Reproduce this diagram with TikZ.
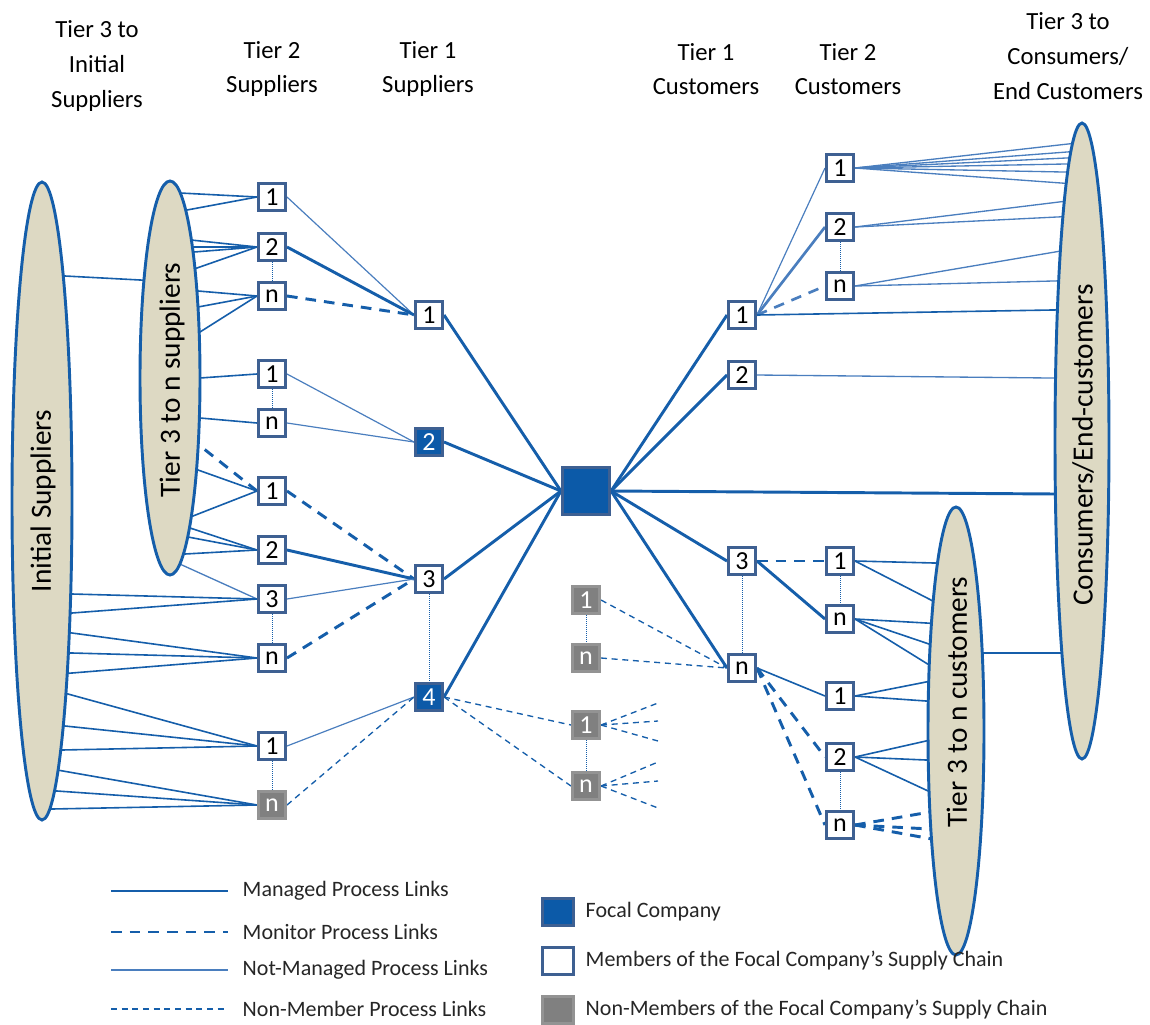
\documentclass[tikz,border=0pt]{standalone}
\usepackage{fontspec}
\setmainfont{Carlito}
\usetikzlibrary{shapes.geometric}
\pgfdeclarelayer{bg}
\pgfsetlayers{bg,main}
\definecolor{lnblue}{RGB}{21,94,170}
\definecolor{thinblue}{RGB}{74,126,190}
\definecolor{boxborder}{RGB}{62,96,146}
\definecolor{focalblue}{RGB}{12,90,168}
\definecolor{nmgray}{RGB}{128,128,128}
\definecolor{ellfill}{RGB}{221,217,195}
\tikzset{
  managed/.style={draw=lnblue, line width=2.2pt},
  managedlt/.style={draw=thinblue, line width=2pt},
  monitor/.style={draw=lnblue, line width=2.2pt, dash pattern=on 8pt off 6pt},
  monitorlt/.style={draw=thinblue, line width=2pt, dash pattern=on 8pt off 6pt},
  notman/.style={draw=thinblue, line width=0.9pt},
  feed/.style={draw=lnblue, line width=1.2pt, shorten >=-5pt},
  feedthin/.style={draw=thinblue, line width=1pt, shorten >=-5pt},
  nonmem/.style={draw=lnblue, line width=1pt, dash pattern=on 4.5pt off 3.5pt},
  dotlink/.style={draw=lnblue, line width=0.7pt, dash pattern=on 0.7pt off 0.8pt},
  mbox/.style={draw=boxborder, fill=white, line width=2.1pt, minimum size=20.4pt, inner sep=0pt, font=\fontsize{19.5}{19.5}\selectfont},
  fbox/.style={mbox, fill=focalblue, text=white},
  gbox/.style={mbox, draw=nmgray!85, fill=nmgray, text=white},
  ell/.style={ellipse, draw=lnblue, line width=2.2pt, fill=ellfill, inner sep=0pt},
  etext/.style={rotate=90, font=\fontsize{22}{22}\selectfont},
  head/.style={align=center, font=\fontsize{18.5}{26}\selectfont},
  legtext/.style={anchor=west, font=\fontsize{16.5}{16.5}\selectfont, text=black!85},
}
\begin{document}
\begin{tikzpicture}[x=0.75pt, y=-0.75pt]
\path[use as bounding box] (0,0) rectangle (1150,1025);

% headers
\node[head] (h1) at (97,66) {Tier 3 to\\Initial\\Suppliers};
\node[head] (h2) at (272,69) {Tier 2\\Suppliers};
\node[head] (h3) at (428,69) {Tier 1\\Suppliers};
\node[head] (h4) at (706,69) {Tier 1\\Customers};
\node[head] (h5) at (848,69) {Tier 2\\Customers};
\node[head] (h6) at (1068,56) {Tier 3 to\\Consumers/\\End Customers};

% ellipses
\node[ell, minimum width=45pt, minimum height=478.5pt] (IS) at (42,501) {};
\node[ell, minimum width=45pt, minimum height=295.5pt] (T3S) at (170,378) {};
\node[ell, minimum width=40.5pt, minimum height=477pt] (CE) at (1082,441) {};
\node[ell, minimum width=42pt, minimum height=336pt] (T3C) at (956,731) {};
\node[etext] (ISt) at (43,501) {Initial Suppliers};
\node[etext] (T3St) at (172,380) {Tier 3 to n suppliers};
\node[etext] (CEt) at (1083,445) {Consumers/End-customers};
\node[etext] (T3Ct) at (957,702) {Tier 3 to n customers};

% tier 2 suppliers
\node[mbox] (S2a1) at (272,197) {1};
\node[mbox] (S2a2) at (272,247) {2};
\node[mbox] (S2an) at (272,296) {n};
\node[mbox] (S2b1) at (272,374) {1};
\node[mbox] (S2bn) at (272,423) {n};
\node[mbox] (S2c1) at (272,491) {1};
\node[mbox] (S2c2) at (272,550) {2};
\node[mbox] (S2c3) at (272,599) {3};
\node[mbox] (S2cn) at (272,658) {n};
\node[mbox] (S2d1) at (272,746) {1};
\node[gbox] (S2dn) at (272,805) {n};
% tier 1 suppliers
\node[mbox] (T1s1) at (429,315) {1};
\node[fbox] (T1s2) at (429,442) {2};
\node[mbox] (T1s3) at (429,579) {3};
\node[fbox] (T1s4) at (429,697) {4};
% focal
\node[mbox, fill=focalblue, minimum size=35.5pt] (F) at (586,491) {};
% non members middle
\node[gbox] (G1) at (586,600) {1};
\node[gbox] (Gn) at (586,658) {n};
\node[gbox] (G21) at (586,725) {1};
\node[gbox] (G2n) at (586,786) {n};
% tier 1 customers
\node[mbox] (C11) at (742,315) {1};
\node[mbox] (C12) at (742,375) {2};
\node[mbox] (C13) at (742,561) {3};
\node[mbox] (C1n) at (742,668) {n};
% tier 2 customers
\node[mbox] (C2a1) at (840,168) {1};
\node[mbox] (C2a2) at (840,227) {2};
\node[mbox] (C2an) at (840,286) {n};
\node[mbox] (C2b1) at (840,561) {1};
\node[mbox] (C2bn) at (840,619) {n};
\node[mbox] (C2c1) at (840,696) {1};
\node[mbox] (C2c2) at (840,757) {2};
\node[mbox] (C2cn) at (840,825) {n};

\begin{pgfonlayer}{bg}
% ellipse to ellipse
\draw[feed, shorten <=-5pt] (65,276) -- (140,280);
\draw[feed, shorten <=-5pt] (986,653) -- (1057,653);
% tier 3 suppliers -> tier 2
\foreach \p in {(180,193),(187,210)} \draw[feed] (S2a1.west) -- \p;
\foreach \p in {(191,240),(193,247),(194,252),(197,268)} \draw[feed] (S2a2.west) -- \p;
\foreach \p in {(198,291),(198,307),(200,332)} \draw[feed] (S2an.west) -- \p;
\draw[feed] (S2b1.west) -- (200,378);
\draw[feed] (S2bn.west) -- (200,418);
\foreach \p in {(198,470),(193,516)} \draw[feed] (S2c1.west) -- \p;
\draw[monitor, shorten >=-5pt] (S2c1.west) -- (199,445);
\foreach \p in {(190,528),(188,537),(185,554)} \draw[feed] (S2c2.west) -- \p;
\draw[feedthin] (S2c3.west) -- (182,565);
\foreach \p in {(72,594),(72,613)} \draw[feed] (S2c3.west) -- \p;
\foreach \p in {(72,633),(72,653),(72,673)} \draw[feed] (S2cn.west) -- \p;
\foreach \p in {(68,694),(65,726),(62,750)} \draw[feed] (S2d1.west) -- \p;
\foreach \p in {(63,771),(57,791),(52,809)} \draw[feed] (S2dn.west) -- \p;
% tier 2 -> tier 1 suppliers
\draw[notman] (S2a1.east) -- (T1s1.west);
\draw[managed] (S2a2.east) -- (T1s1.west);
\draw[monitor] (S2an.east) -- (T1s1.west);
\draw[notman] (S2b1.east) -- (T1s2.west);
\draw[notman] (S2bn.east) -- (T1s2.west);
\draw[monitor] (S2c1.east) -- (T1s3.west);
\draw[managed] (S2c2.east) -- (T1s3.west);
\draw[notman] (S2c3.east) -- (T1s3.west);
\draw[monitor] (S2cn.east) -- (T1s3.west);
\draw[notman] (S2d1.east) -- (T1s4.west);
\draw[nonmem] (S2dn.east) -- (T1s4.west);
% tier 1 -> focal
\foreach \n in {T1s1,T1s2,T1s3,T1s4} \draw[managed] (\n.east) -- (F.west);
% non-member links
\draw[nonmem] (T1s4.east) -- (G21.west);
\draw[nonmem] (T1s4.east) -- (G2n.west);
\foreach \p in {(658,703),(658,721),(658,741)} \draw[nonmem] (G21.east) -- \p;
\foreach \p in {(658,762),(658,781),(658,808)} \draw[nonmem] (G2n.east) -- \p;
\draw[nonmem] (G1.east) -- (C1n.west);
\draw[nonmem] (Gn.east) -- (C1n.west);
% focal -> customers
\foreach \n in {C11,C12,C13,C1n} \draw[managed] (F.east) -- (\n.west);
\draw[managed, shorten >=-5pt] (F.east) -- (1056,494);
% tier 1 -> tier 2 customers
\draw[notman] (C11.east) -- (C2a1.west);
\draw[managedlt] (C11.east) -- (C2a2.west);
\draw[monitorlt] (C11.east) -- (C2an.west);
\draw[monitor] (C13.east) -- (C2b1.west);
\draw[managed] (C13.east) -- (C2bn.west);
\draw[feed, shorten >=0pt] (C1n.east) -- (C2c1.west);
\draw[monitor] (C1n.east) -- (C2c2.west);
\draw[monitor] (C1n.east) -- (C2cn.west);
% to consumers ellipse
\foreach \p in {(1068,144),(1067,152),(1066,158),(1065,164),(1063,172),(1061,183)} \draw[feedthin] (C2a1.east) -- \p;
\foreach \p in {(1059,202),(1057,217)} \draw[feedthin] (C2a2.east) -- \p;
\foreach \p in {(1055,252),(1053,281)} \draw[feedthin] (C2an.east) -- \p;
\draw[feed] (C11.east) -- (1052,310);
\draw[feedthin] (C12.east) -- (1050,378);
% to tier 3 customers ellipse
\foreach \p in {(934,563),(929,599)} \draw[feed] (C2b1.east) -- \p;
\foreach \p in {(926,623),(926,643),(926,663)} \draw[feed] (C2bn.east) -- \p;
\foreach \p in {(926,682),(926,701)} \draw[feed] (C2c1.east) -- \p;
\foreach \p in {(926,741),(926,760),(926,790)} \draw[feed] (C2c2.east) -- \p;
\foreach \p in {(930,812),(930,829),(932,839)} \draw[monitor, shorten >=-5pt] (C2cn.east) -- \p;
% dotted member links
\draw[dotlink] (S2a2) -- (S2an);
\draw[dotlink] (S2b1) -- (S2bn);
\draw[dotlink] (S2c3) -- (S2cn);
\draw[dotlink] (S2d1) -- (S2dn);
\draw[dotlink] (T1s3) -- (T1s4);
\draw[dotlink] (G1) -- (Gn);
\draw[dotlink] (G21) -- (G2n);
\draw[dotlink] (C13) -- (C1n);
\draw[dotlink] (C2a2) -- (C2an);
\draw[dotlink] (C2b1) -- (C2bn);
\draw[dotlink] (C2c2) -- (C2cn);
\end{pgfonlayer}

% legend
\coordinate (La1) at (111,891); \coordinate (La2) at (228,891);
\coordinate (Lb1) at (111,932); \coordinate (Lb2) at (228,932);
\coordinate (Lc1) at (111,970); \coordinate (Lc2) at (228,970);
\coordinate (Ld1) at (111,1009); \coordinate (Ld2) at (228,1009);
\draw[managed] (La1) -- (La2);
\draw[monitor] (Lb1) -- (Lb2);
\draw[notman] (Lc1) -- (Lc2);
\draw[nonmem] (Ld1) -- (Ld2);
\node[legtext] (lt1) at (238,891) {Managed Process Links};
\node[legtext] (lt2) at (238,932) {Monitor Process Links};
\node[legtext] (lt3) at (238,970) {Not-Managed Process Links};
\node[legtext] (lt4) at (238,1009) {Non-Member Process Links};
\node[mbox, fill=focalblue, minimum width=23pt] (lq1) at (558,912) {};
\node[mbox, minimum width=23pt] (lq2) at (558,961) {};
\node[gbox, minimum width=23pt] (lq3) at (558,1010) {};
\node[legtext] (lt5) at (581,912) {Focal Company};
\node[legtext] (lt6) at (581,961) {Members of the Focal Company’s Supply Chain};
\node[legtext] (lt7) at (581,1010) {Non-Members of the Focal Company’s Supply Chain};
\end{tikzpicture}
\end{document}
